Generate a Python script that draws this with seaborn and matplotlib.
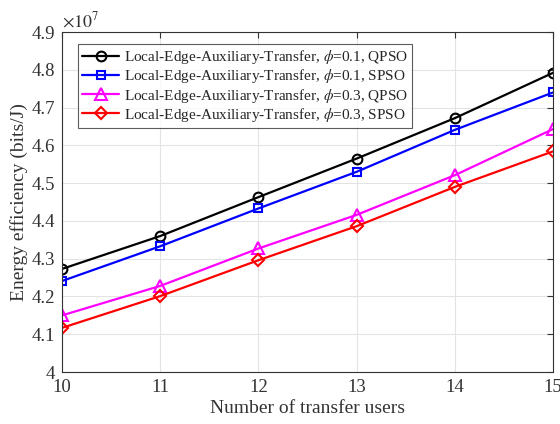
import matplotlib
matplotlib.use("Agg")
import matplotlib.pyplot as plt
import pandas as pd
import seaborn as sns
from matplotlib.ticker import FuncFormatter, MultipleLocator

# 横轴：转发用户数
users = [10, 11, 12, 13, 14, 15]

# 能效（单位 1e7 bits/J），从原图读出来的
ee_phi01_qpso = [4.273, 4.360, 4.463, 4.565, 4.672, 4.792]
ee_phi01_spso = [4.241, 4.333, 4.433, 4.530, 4.641, 4.740]
ee_phi03_qpso = [4.150, 4.228, 4.327, 4.416, 4.521, 4.643]
ee_phi03_spso = [4.117, 4.201, 4.296, 4.386, 4.490, 4.584]

labels = [
    r"Local-Edge-Auxiliary-Transfer, $\phi$=0.1, QPSO",
    r"Local-Edge-Auxiliary-Transfer, $\phi$=0.1, SPSO",
    r"Local-Edge-Auxiliary-Transfer, $\phi$=0.3, QPSO",
    r"Local-Edge-Auxiliary-Transfer, $\phi$=0.3, SPSO",
]
colors = ["black", "#0000ff", "#ff00ff", "#ff0000"]
markers = ["o", "s", "^", "D"]
marker_sizes = [7, 6, 8, 6]

sns.set_theme(style="white")
plt.rcParams["font.family"] = ["Liberation Serif", "DejaVu Serif"]
plt.rcParams["mathtext.fontset"] = "stix"

txt_color = "#333333"

fig, ax = plt.subplots(figsize=(5.6, 4.24), dpi=100)
fig.subplots_adjust(left=0.111, right=0.9875, top=0.9245, bottom=0.1226)

series = [ee_phi01_qpso, ee_phi01_spso, ee_phi03_qpso, ee_phi03_spso]
for vals, lab, col, mk, ms in zip(series, labels, colors, markers, marker_sizes):
    df = pd.DataFrame({"users": users, "ee": vals})
    sns.lineplot(
        data=df, x="users", y="ee", ax=ax, color=col, linewidth=1.6,
        marker=mk, markersize=ms, markerfacecolor="none",
        markeredgecolor=col, markeredgewidth=1.5, label=lab,
    )

ax.set_xlim(10, 15)
ax.set_ylim(4.0, 4.9)
ax.xaxis.set_major_locator(MultipleLocator(1))
ax.yaxis.set_major_locator(MultipleLocator(0.1))
ax.yaxis.set_major_formatter(FuncFormatter(lambda v, _: f"{v:g}"))
ax.grid(True, color="#e3e3e3", linewidth=0.8)
ax.tick_params(direction="in", length=4, width=0.8, labelsize=13.5,
               top=True, right=True, colors=txt_color, pad=5)
for sp in ax.spines.values():
    sp.set_color(txt_color)
    sp.set_linewidth(0.8)

ax.set_xlabel("Number of transfer users", fontsize=14, color=txt_color, labelpad=3)
ax.set_ylabel("Energy efficiency (bits/J)", fontsize=14, color=txt_color, labelpad=3)
ax.text(0.0, 1.003, r"$\times10^7$", transform=ax.transAxes, fontsize=13,
        color=txt_color, ha="left", va="bottom")

leg = ax.legend(loc="upper left", bbox_to_anchor=(0.032, 0.966), fontsize=11,
                frameon=True, fancybox=False, edgecolor=txt_color,
                borderpad=0.3, labelspacing=0.08, handlelength=2.4,
                handletextpad=0.3, borderaxespad=0.0)
leg.get_frame().set_linewidth(0.8)

fig.savefig("out.png", dpi=100)
